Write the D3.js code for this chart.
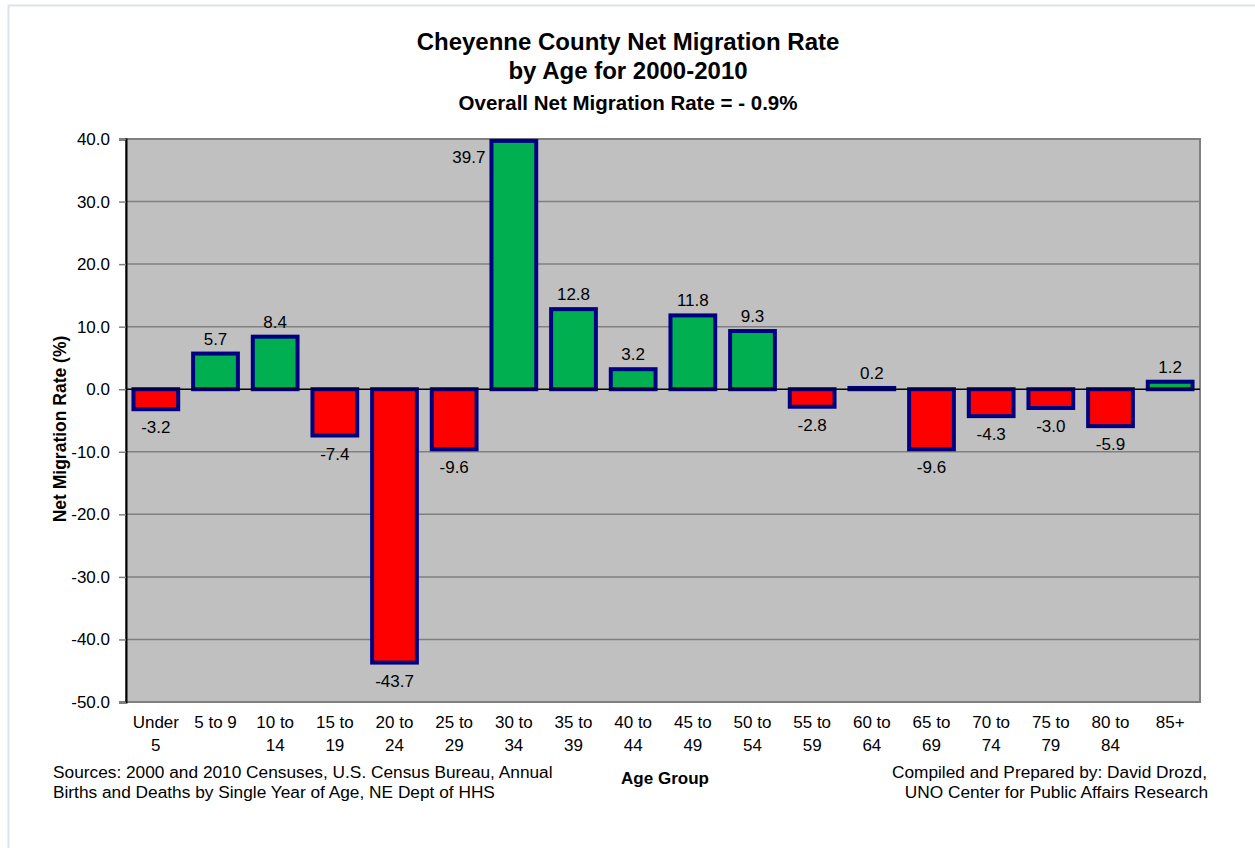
<!DOCTYPE html>
<html>
<head>
<meta charset="utf-8">
<script src="https://cdn.jsdelivr.net/npm/d3@7"></script>
<style>
    body { margin: 0; background: #fff; }
    text { font-family: "Liberation Sans", Arial, sans-serif; fill: #000; }
</style>
</head>
<body>
<script>
var ageGroups = ["Under 5", "5 to 9", "10 to 14", "15 to 19", "20 to 24", "25 to 29",
                 "30 to 34", "35 to 39", "40 to 44", "45 to 49", "50 to 54", "55 to 59",
                 "60 to 64", "65 to 69", "70 to 74", "75 to 79", "80 to 84", "85+"];
var rates = [-3.2, 5.7, 8.4, -7.4, -43.7, -9.6, 39.7, 12.8, 3.2, 11.8, 9.3, -2.8,
             0.2, -9.6, -4.3, -3.0, -5.9, 1.2];
var yTicks = [40, 30, 20, 10, 0, -10, -20, -30, -40, -50];

var width = 1255, height = 848;
var margins = {top: 139, left: 126, right: 55, bottom: 146};

// plain hyphen for negatives, like the original
var fmt = function(d){ return d3.format('.1f')(d).replace('\u2212', '-'); };

var svg = d3.select('body').append('svg')
    .attr('width', width)
    .attr('height', height);

// light page frame
svg.append('rect')
    .attr('x', 8.5).attr('y', 5.5)
    .attr('width', 1260).attr('height', 900)
    .attr('fill', 'none')
    .attr('stroke', '#dde3e8')
    .attr('stroke-width', 2);

var bodyW = width - margins.left - margins.right;
var bodyH = height - margins.top - margins.bottom;

var x = d3.scaleBand().domain(ageGroups).range([0, bodyW])
    .paddingInner(0.25).paddingOuter(0.125);
var y = d3.scaleLinear().domain([-50, 40]).range([bodyH, 0]);

var body = svg.append('g')
    .attr('transform', 'translate(' + margins.left + ',' + margins.top + ')');

body.append('rect')
    .attr('width', bodyW).attr('height', bodyH)
    .attr('fill', '#c0c0c0')
    .attr('stroke', '#808080')
    .attr('stroke-width', 2);

// gridlines
body.selectAll('line.grid').data(yTicks.filter(d => d !== 0 && d !== -50 && d !== 40))
    .enter().append('line')
    .attr('class', 'grid')
    .attr('x1', 0).attr('x2', bodyW)
    .attr('y1', d => y(d)).attr('y2', d => y(d))
    .attr('stroke', '#808080')
    .attr('stroke-width', 1.5);

// y axis
var yAxis = d3.axisLeft(y).tickValues(yTicks).tickSize(7).tickPadding(9)
    .tickFormat(fmt);
var yg = body.append('g').call(yAxis);
yg.select('.domain').attr('stroke', '#000').attr('stroke-width', 2);
yg.selectAll('.tick line').attr('stroke', '#808080').attr('stroke-width', 1.5);
yg.selectAll('.tick text')
    .attr('font-size', 17)
    .attr('font-family', '"Liberation Sans", Arial, sans-serif')
    .attr('fill', '#000');

// bars
body.selectAll('rect.bar').data(rates)
    .enter().append('rect')
    .attr('class', 'bar')
    .attr('x', (d, i) => x(ageGroups[i]))
    .attr('width', x.bandwidth())
    .attr('y', d => y(Math.max(0, d)))
    .attr('height', d => Math.abs(y(d) - y(0)))
    .attr('fill', d => d >= 0 ? '#00b050' : '#ff0000')
    .attr('stroke', '#000080')
    .attr('stroke-width', 4);

// zero line
body.append('line')
    .attr('x1', 0).attr('x2', bodyW)
    .attr('y1', y(0)).attr('y2', y(0))
    .attr('stroke', '#000')
    .attr('stroke-width', 1.5);

// value labels
body.selectAll('text.val').data(rates)
    .enter().append('text')
    .attr('class', 'val')
    .attr('font-size', 17)
    .attr('text-anchor', d => d > 38 ? 'end' : 'middle')
    .attr('x', (d, i) => d > 38 ? x(ageGroups[i]) - 6 : x(ageGroups[i]) + x.bandwidth() / 2)
    .attr('y', d => d > 38 ? y(d) + 22 : (d >= 0 ? y(d) - 9 : y(d) + 24))
    .text(fmt);

// x labels, two lines
var xl = body.selectAll('text.xl').data(ageGroups)
    .enter().append('text')
    .attr('class', 'xl')
    .attr('font-size', 17)
    .attr('text-anchor', 'middle')
    .attr('transform', d => 'translate(' + (x(d) + x.bandwidth() / 2) + ',' + (bodyH + 26) + ')');
xl.each(function(d){
    var parts;
    if (d.indexOf(' to ') > 0 && d !== '5 to 9') {
        var p = d.split(' to ');
        parts = [p[0] + ' to', p[1]];
    } else if (d === 'Under 5') {
        parts = ['Under', '5'];
    } else {
        parts = [d];
    }
    d3.select(this).selectAll('tspan').data(parts).enter().append('tspan')
        .attr('x', 0)
        .attr('dy', (p, j) => j === 0 ? 0 : 23)
        .text(p => p);
});

// titles
svg.append('text')
    .attr('x', 628).attr('y', 50)
    .attr('text-anchor', 'middle')
    .attr('font-size', 24).attr('font-weight', 'bold')
    .text('Cheyenne County Net Migration Rate');
svg.append('text')
    .attr('x', 628).attr('y', 79)
    .attr('text-anchor', 'middle')
    .attr('font-size', 24).attr('font-weight', 'bold')
    .text('by Age for 2000-2010');
svg.append('text')
    .attr('x', 628).attr('y', 110)
    .attr('text-anchor', 'middle')
    .attr('font-size', 20.5).attr('font-weight', 'bold')
    .text('Overall Net Migration Rate = - 0.9%');

// axis titles
svg.append('text')
    .attr('transform', 'translate(66,429) rotate(-90)')
    .attr('text-anchor', 'middle')
    .attr('font-size', 17.5).attr('font-weight', 'bold')
    .text('Net Migration Rate (%)');
svg.append('text')
    .attr('x', 665).attr('y', 784)
    .attr('text-anchor', 'middle')
    .attr('font-size', 17).attr('font-weight', 'bold')
    .text('Age Group');

// notes
var src = svg.append('text').attr('font-size', 17.3);
src.append('tspan').attr('x', 53).attr('y', 778)
    .text('Sources: 2000 and 2010 Censuses, U.S. Census Bureau, Annual');
src.append('tspan').attr('x', 53).attr('y', 798)
    .text('Births and Deaths by Single Year of Age, NE Dept of HHS');

var cmp = svg.append('text').attr('font-size', 17.3).attr('text-anchor', 'end');
cmp.append('tspan').attr('x', 1207).attr('y', 778)
    .text('Compiled and Prepared by: David Drozd,');
cmp.append('tspan').attr('x', 1208).attr('y', 798)
    .text('UNO Center for Public Affairs Research');
</script>
</body>
</html>
